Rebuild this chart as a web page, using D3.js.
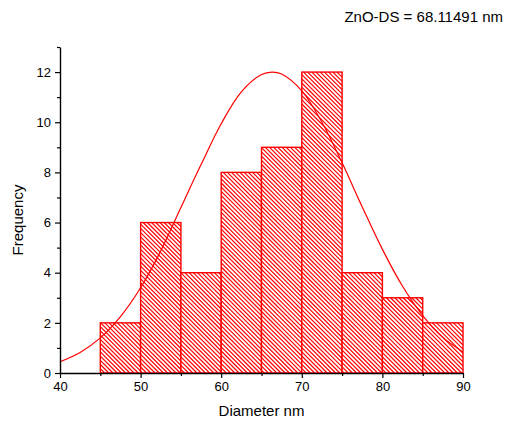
<!DOCTYPE html>
<html>
<head>
<meta charset="utf-8">
<script src="https://cdn.jsdelivr.net/npm/d3@7"></script>
<style>
  body { margin: 0; background: #fff; }
  text { font-family: "Liberation Sans", Arial, sans-serif; fill: #000; }
  .hatch line { stroke: #ff0000; }
</style>
</head>
<body>
<div id="chart"></div>
<script>
// histogram bins (lower edge, upper edge) and counts
var binStart = [45, 50, 55, 60, 65, 70, 75, 80, 85];
var binEnd   = [50, 55, 60, 65, 70, 75, 80, 85, 90];
var counts   = [2, 6, 4, 8, 9, 12, 4, 3, 2];

// fitted curve
var fitX = [40, 42.5, 45, 47.5, 50, 52.5, 55, 57.5, 60, 62.5, 65, 66.3, 67.5, 70, 72.5, 75, 77.5, 80, 82.5, 85, 87.5, 90];
var fitY = [0.45, 0.82, 1.40, 2.25, 3.40, 4.87, 6.6, 8.31, 9.94, 11.21, 11.90, 12.0, 11.92, 11.25, 10.0, 8.38, 6.62, 4.93, 3.46, 2.29, 1.42, 0.84];

var xTicks = [40, 50, 60, 70, 80, 90];
var yTicks = [0, 2, 4, 6, 8, 10, 12];
var label = "ZnO-DS = 68.11491 nm";

var W = 507, H = 426;
var margin = {top: 47, right: 44, bottom: 53, left: 60},
  width = W - margin.left - margin.right,
  height = H - margin.top - margin.bottom;

var svg = d3.select("#chart")
  .append("svg")
    .attr("width", W)
    .attr("height", H);

var g = svg.append("g")
  .attr("transform", "translate(" + margin.left + "," + margin.top + ")");

var x = d3.scaleLinear().domain([40, 90]).range([0, width]);
var y = d3.scaleLinear().domain([0, 13]).range([height, 0]);

// hatch lines (\\\) cut to each bar
var gap = 4.2;
function hatch(x0, x1, y0, y1) {
  var segs = [];
  var cMin = Math.ceil((y0 - x1) / gap) * gap;
  for (var c = cMin; c <= y1 - x0; c += gap) {
    var sx = Math.max(x0, y0 - c), ex = Math.min(x1, y1 - c);
    if (ex > sx) segs.push([sx, sx + c, ex, ex + c]);
  }
  return segs;
}

var bars = g.selectAll(".bar")
  .data(counts)
  .enter()
  .append("g")
    .attr("class", "bar hatch");

bars.append("rect")
  .attr("x", function(d, i) { return x(binStart[i]) })
  .attr("y", function(d) { return y(d) })
  .attr("width", function(d, i) { return x(binEnd[i]) - x(binStart[i]) })
  .attr("height", function(d) { return y(0) - y(d) })
  .attr("fill", "#fff");

bars.selectAll("line")
  .data(function(d, i) { return hatch(x(binStart[i]), x(binEnd[i]), y(d), y(0)) })
  .enter()
  .append("line")
    .attr("x1", function(s) { return s[0] })
    .attr("y1", function(s) { return s[1] })
    .attr("x2", function(s) { return s[2] })
    .attr("y2", function(s) { return s[3] })
    .style("stroke", "rgb(255,0,0)")
    .style("stroke-width", "1.2px");

bars.append("rect")
  .attr("x", function(d, i) { return x(binStart[i]) })
  .attr("y", function(d) { return y(d) })
  .attr("width", function(d, i) { return x(binEnd[i]) - x(binStart[i]) })
  .attr("height", function(d) { return y(0) - y(d) })
  .attr("fill", "none")
  .attr("stroke", "#ff0000")
  .attr("stroke-width", 1.4);

// fit curve
var line = d3.line()
  .x(function(d) { return x(d[0]) })
  .y(function(d) { return y(d[1]) })
  .curve(d3.curveCatmullRom);
g.append("path")
  .datum(fitX.map(function(v, i) { return [v, fitY[i]] }))
  .attr("d", line)
  .attr("fill", "none")
  .attr("stroke", "#ff0000")
  .attr("stroke-width", 1.2);

// minor ticks
var xMinor = g.append("g")
  .attr("transform", "translate(0," + height + ")")
  .call(d3.axisBottom(x).tickValues([45, 55, 65, 75, 85]).tickSize(3).tickFormat(""));
var yMinor = g.append("g")
  .call(d3.axisLeft(y).tickValues([1, 3, 5, 7, 9, 11, 13]).tickSize(3).tickFormat(""));

// major axes
var xAxis = g.append("g")
  .attr("transform", "translate(0," + height + ")")
  .call(d3.axisBottom(x).tickValues(xTicks).tickSize(5).tickSizeOuter(0).tickPadding(4));
var yAxis = g.append("g")
  .call(d3.axisLeft(y).tickValues(yTicks).tickSize(5).tickSizeOuter(0).tickPadding(4));

[xMinor, yMinor].forEach(function(a) { a.select(".domain").remove(); });
[xAxis, yAxis, xMinor, yMinor].forEach(function(a) {
  a.selectAll(".tick line").attr("stroke", "#000").attr("stroke-width", 1.2);
  a.select(".domain").attr("stroke", "#000").attr("stroke-width", 1.4);
  a.selectAll("text").style("font-size", "13px").attr("fill", "#000");
});

// axis titles
svg.append("text")
  .attr("x", margin.left + width / 2)
  .attr("y", 416)
  .attr("text-anchor", "middle")
  .style("font-size", "15px")
  .text("Diameter nm");

svg.append("text")
  .attr("transform", "translate(23," + (margin.top + height / 2 + 10) + ") rotate(-90)")
  .attr("text-anchor", "middle")
  .style("font-size", "15px")
  .text("Frequency");

svg.append("text")
  .attr("x", 503)
  .attr("y", 22)
  .attr("text-anchor", "end")
  .style("font-size", "15px")
  .text(label);
</script>
</body>
</html>
